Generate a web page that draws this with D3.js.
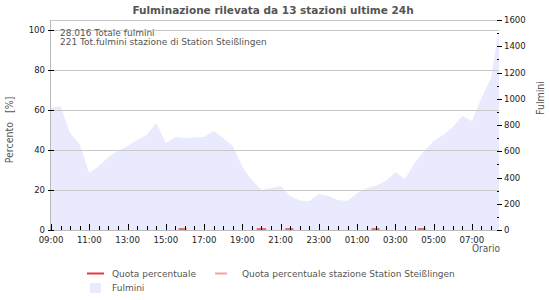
<!DOCTYPE html>
<html>
<head>
<meta charset="utf-8">
<script src="https://cdn.jsdelivr.net/npm/d3@7"></script>
<style>
  body { margin: 0; background: #fff; }
  svg text { font-family: "DejaVu Sans Condensed", "DejaVu Sans", sans-serif; font-stretch: condensed; }
  svg text.wide { font-family: "DejaVu Sans", sans-serif; font-stretch: normal; }
</style>
</head>
<body>
<div id="chart"></div>
<script>
// fulmini (right axis), half-hour samples from 09:00 to 08:25 next day
const fulminiTimes = ["09:00","09:30","10:00","10:30","11:00","11:30","12:00","12:30","13:00","13:30",
  "14:00","14:30","15:00","15:30","16:00","16:30","17:00","17:30","18:00","18:30",
  "19:00","19:30","20:00","20:30","21:00","21:30","22:00","22:30","23:00","23:30",
  "00:00","00:30","01:00","01:30","02:00","02:30","03:00","03:30","04:00","04:30",
  "05:00","05:30","06:00","06:30","07:00","07:30","08:00","08:15","08:25"];
const fulminiValues = [930, 945, 739, 655, 434, 488, 556, 602, 640, 686,
  724, 815, 663, 709, 701, 705, 709, 754, 701, 640,
  480, 381, 305, 320, 335, 259, 225, 221, 274, 259,
  229, 221, 282, 320, 339, 373, 442, 389, 510, 602,
  678, 724, 785, 869, 830, 1006, 1158, 1387, 1509];

// short stretches of the percentage line (at 0)
const quotaFrom = ["15:40", "19:45", "21:15", "01:45", "04:10"];
const quotaTo   = ["16:05", "20:15", "21:40", "02:10", "04:35"];
const quotaValue = [0, 0, 0, 0, 0];

const leftTicks = [0, 20, 40, 60, 80, 100];
const rightTicks = [0, 200, 400, 600, 800, 1000, 1200, 1400, 1600];
const xTickLabels = ["09:00","11:00","13:00","15:00","17:00","19:00","21:00","23:00","01:00","03:00","05:00","07:00"];

const titleText = "Fulminazione rilevata da 13 stazioni ultime 24h";
const infoLines = ["28.016 Totale fulmini", "221 Tot.fulmini stazione di Station Steißlingen"];
const legendLabels = ["Quota percentuale", "Quota percentuale stazione Station Steißlingen", "Fulmini"];

const width = 550, height = 300;
const margin = {top: 20, right: 51, bottom: 70, left: 51};
const innerW = width - margin.left - margin.right;
const innerH = height - margin.top - margin.bottom;

const fillColor = "#eaeaff";
const redColor = "#e03c3c";
const pinkColor = "#f4a0a0";
const gridColor = "#c8c8c8";
const textGray = "#555";

// parse "HH:MM" into a date, rolling over to the next day before 09:00
function parseTime(s) {
  const [h, m] = s.split(":").map(Number);
  const day = h < 9 ? 2 : 1;
  return new Date(2024, 0, day, h, m);
}

const xStart = parseTime("09:00");
const xEnd = parseTime("08:25");

const svg = d3.select("#chart").append("svg")
  .attr("width", width)
  .attr("height", height);

const g = svg.append("g")
  .attr("transform", `translate(${margin.left},${margin.top})`);

const x = d3.scaleTime().domain([xStart, xEnd]).range([0, innerW]);
const yLeft = d3.scaleLinear().domain([0, 105]).range([innerH, 0]);
const yRight = d3.scaleLinear().domain([0, 1600]).range([innerH, 0]);

// area
const fulmini = fulminiTimes.map((t, i) => ({t: parseTime(t), v: fulminiValues[i]}));
g.append("path")
  .datum(fulmini)
  .attr("fill", fillColor)
  .attr("d", d3.area().x(d => x(d.t)).y0(innerH).y1(d => yRight(d.v)));

// gridlines + top frame
g.selectAll("line.grid")
  .data(leftTicks.filter(d => d > 0))
  .join("line")
  .attr("class", "grid")
  .attr("x1", 0).attr("x2", innerW)
  .attr("y1", d => Math.round(yLeft(d)) + 0.5).attr("y2", d => Math.round(yLeft(d)) + 0.5)
  .attr("stroke", gridColor);
g.append("line")
  .attr("x1", 0).attr("x2", innerW).attr("y1", 0.5).attr("y2", 0.5)
  .attr("stroke", gridColor);

// percentage line stretches
const line = d3.line().x(d => x(d.t)).y(d => yLeft(d.v) - 1);
quotaFrom.forEach((f, i) => {
  g.append("path")
    .datum([{t: parseTime(f), v: quotaValue[i]}, {t: parseTime(quotaTo[i]), v: quotaValue[i]}])
    .attr("fill", "none")
    .attr("stroke", redColor)
    .attr("stroke-opacity", 0.7)
    .attr("stroke-width", 2)
    .attr("d", line);
});

// x axis
const xAxisG = g.append("g").attr("transform", `translate(0,${innerH})`);
xAxisG.append("line").attr("x1", 0).attr("x2", innerW).attr("y1", 0.5).attr("y2", 0.5).attr("stroke", "#bbb");
const minorX = d3.timeMinute.every(30).range(xStart, xEnd);
xAxisG.selectAll("line.tick")
  .data(minorX)
  .join("line")
  .attr("class", "tick")
  .attr("x1", d => Math.round(x(d)) + 0.5).attr("x2", d => Math.round(x(d)) + 0.5)
  .attr("y1", 0)
  .attr("y2", d => d.getMinutes() === 0 && d.getHours() % 2 === 1 ? -6 : -4)
  .attr("stroke", "#000");
xAxisG.selectAll("text")
  .data(xTickLabels)
  .join("text")
  .attr("x", d => x(parseTime(d)))
  .attr("y", 13)
  .attr("text-anchor", "middle")
  .attr("font-size", "9.5px")
  .attr("fill", "#222")
  .text(d => d);
xAxisG.append("text")
  .attr("x", innerW + 1)
  .attr("y", 22)
  .attr("text-anchor", "end")
  .attr("font-size", "10px")
  .attr("fill", textGray)
  .text("Orario");

// left axis
const leftG = g.append("g");
leftG.append("line").attr("x1", -0.5).attr("x2", -0.5).attr("y1", 0).attr("y2", innerH).attr("stroke", "#bbb");
leftG.selectAll("line.tick")
  .data(leftTicks)
  .join("line")
  .attr("class", "tick")
  .attr("x1", -3).attr("x2", 3)
  .attr("y1", d => Math.round(yLeft(d)) + 0.5).attr("y2", d => Math.round(yLeft(d)) + 0.5)
  .attr("stroke", "#000");
leftG.selectAll("text")
  .data(leftTicks)
  .join("text")
  .attr("x", -6)
  .attr("y", d => yLeft(d) + 3)
  .attr("text-anchor", "end")
  .attr("font-size", "9.5px")
  .attr("fill", "#222")
  .text(d => d);

// right axis
const rightG = g.append("g").attr("transform", `translate(${innerW},0)`);
rightG.selectAll("line.tick")
  .data(d3.range(0, 1601, 100))
  .join("line")
  .attr("class", "tick")
  .attr("x1", -2).attr("x2", d => d % 200 === 0 ? 3 : 0)
  .attr("y1", d => Math.round(yRight(d)) + 0.5).attr("y2", d => Math.round(yRight(d)) + 0.5)
  .attr("stroke", "#000");
rightG.selectAll("text")
  .data(rightTicks)
  .join("text")
  .attr("x", 5)
  .attr("y", d => yRight(d) + 3)
  .attr("font-size", "9.5px")
  .attr("fill", "#222")
  .text(d => d);

// axis titles
svg.append("text")
  .attr("transform", `translate(13,${margin.top + 110}) rotate(-90)`)
  .attr("text-anchor", "middle")
  .attr("font-size", "10.5px")
  .attr("fill", textGray)
  .attr("xml:space", "preserve")
  .text("Percento   [%]");
svg.append("text")
  .attr("transform", `translate(544,${margin.top + 78}) rotate(-90)`)
  .attr("text-anchor", "middle")
  .attr("font-size", "10.5px")
  .attr("fill", textGray)
  .text("Fulmini");

// title
svg.append("text")
  .attr("class", "wide")
  .attr("x", 273)
  .attr("y", 14)
  .attr("text-anchor", "middle")
  .attr("font-size", "10.5px")
  .attr("font-weight", "bold")
  .attr("fill", textGray)
  .text(titleText);

// info text
g.selectAll("text.info")
  .data(infoLines)
  .join("text")
  .attr("class", "info wide")
  .attr("x", 9)
  .attr("y", (d, i) => 16 + i * 9)
  .attr("font-size", "9px")
  .attr("fill", textGray)
  .text(d => d);

// legend
const legend = svg.append("g");
legend.append("line").attr("x1", 87).attr("x2", 104).attr("y1", 273.5).attr("y2", 273.5)
  .attr("stroke", redColor).attr("stroke-width", 2);
legend.append("text").attr("class", "wide").attr("x", 112).attr("y", 277).attr("font-size", "9px").attr("fill", textGray).text(legendLabels[0]);
legend.append("line").attr("x1", 215).attr("x2", 227).attr("y1", 273.5).attr("y2", 273.5)
  .attr("stroke", pinkColor).attr("stroke-width", 2);
legend.append("text").attr("class", "wide").attr("x", 242).attr("y", 277).attr("font-size", "9px").attr("fill", textGray).text(legendLabels[1]);
legend.append("rect").attr("x", 90).attr("y", 283).attr("width", 11).attr("height", 10).attr("fill", fillColor);
legend.append("text").attr("class", "wide").attr("x", 112).attr("y", 291).attr("font-size", "9px").attr("fill", textGray).text(legendLabels[2]);
</script>
</body>
</html>
